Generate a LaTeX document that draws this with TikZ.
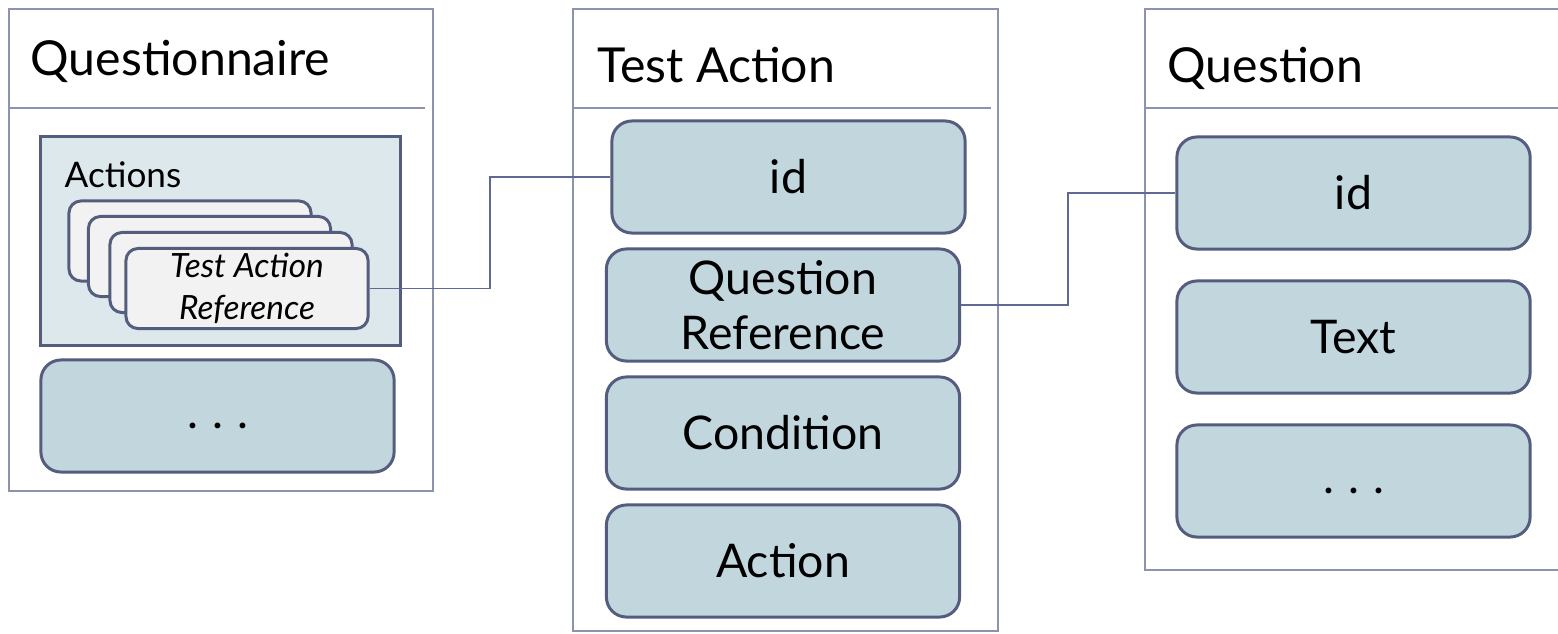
\documentclass[tikz,border=0pt]{standalone}
\usepackage{fontspec}
\setmainfont{Lato}
\usetikzlibrary{calc}
\definecolor{framecol}{HTML}{8C93AE}
\definecolor{edgecol}{HTML}{555D7E}
\definecolor{fieldfill}{HTML}{C1D6DD}
\definecolor{groupfill}{HTML}{DDE8ED}
\definecolor{cardfill}{HTML}{F2F2F2}
\definecolor{linkcol}{HTML}{5E6A94}
\newcommand{\moredots}{\vphantom{Ag}.\kern4pt.\kern4pt.}

\begin{document}
\begin{tikzpicture}[x=0.01cm, y=-0.01cm,
	frame/.style={draw=framecol, line width=0.6pt, fill=white, minimum width=4.24cm, inner sep=0pt},
	title/.style={anchor=base west, inner sep=0pt, font=\fontsize{13.7}{16}\selectfont},
	field/.style={draw=edgecol, line width=0.85pt, fill=fieldfill, rounded corners=0.2cm,
		minimum width=3.53cm, minimum height=1.12cm, inner sep=0pt, align=center,
		font=\fontsize{13.2}{15.6}\selectfont},
	card/.style={draw=edgecol, line width=0.85pt, fill=cardfill, rounded corners=0.12cm,
		minimum width=2.42cm, minimum height=0.8cm, inner sep=0pt, align=center,
		font=\fontsize{9.5}{12}\selectfont\itshape},
	link/.style={draw=linkcol, line width=0.45pt}]
		\clip (0,0) rectangle (1558,633);
		\fill[white] (0,0) rectangle (1558,633);
		% questionnaire
		\node[frame, minimum height=4.82cm] (qnr) at (221,250) {};
		\draw[framecol, line width=0.6pt] (9,108) -- (425,108);
		\node[title] (qnrtitle) at (30,75) {Questionnaire};
		\node[draw=edgecol, line width=0.85pt, fill=groupfill, minimum width=3.59cm, minimum height=2.08cm] (actions) at (220.5,241) {};
		\node[anchor=base west, inner sep=0pt, font=\fontsize{10}{12}\selectfont] (actlabel) at (64,187) {Actions};
		\node[card] (card1) at (190,241) {};
		\node[card] (card2) at (209.5,256.5) {};
		\node[card] (card3) at (231,272.5) {};
		\node[card] (card4) at (247,288.5) {Test Action\\Reference};
		\node[field] (qnrmore) at (217.5,416) {\moredots};
		% test action
		\node[frame, minimum height=6.22cm] (ta) at (785.5,320) {};
		\draw[framecol, line width=0.6pt] (574,108) -- (991,108);
		\node[title] (tatitle) at (597,82) {Test Action};
		\node[field] (taid) at (788.5,177) {id};
		\node[field] (taqref) at (783,305) {Question\\Reference};
		\node[field] (tacond) at (783,433) {Condition};
		\node[field] (taact) at (783,561) {Action};
		% question
		\node[frame, minimum width=4.25cm, minimum height=5.61cm] (qst) at (1357.5,289.5) {};
		\draw[framecol, line width=0.6pt] (1145,108) -- (1558,108);
		\node[title] (qsttitle) at (1167,82) {Question};
		\node[field] (qstid) at (1353.5,193) {id};
		\node[field] (qsttext) at (1353.5,337) {Text};
		\node[field] (qstmore) at (1353.5,481) {\moredots};
		% links
		\draw[link] (card4.east) -| ($(card4.east)!.5!(taid.west)$) |- (taid.west);
		\draw[link] (taqref.east) -| ($(taqref.east)!.5!(qstid.west)$) |- (qstid.west);
	\end{tikzpicture}
\end{document}
